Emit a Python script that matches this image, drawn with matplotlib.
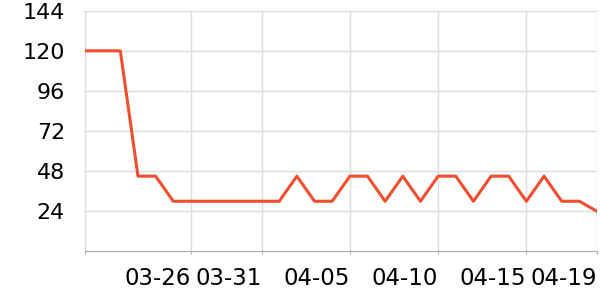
import matplotlib
matplotlib.use("Agg")
import matplotlib.pyplot as plt

dates = ["03-20", "03-21", "03-22", "03-23", "03-24", "03-25", "03-26", "03-27",
         "03-29", "03-30", "03-31", "04-01", "04-02", "04-03", "04-04", "04-05",
         "04-06", "04-07", "04-08", "04-09", "04-10", "04-11", "04-12", "04-13",
         "04-14", "04-15", "04-16", "04-17", "04-18", "04-19"]
values = [120, 120, 120, 45, 45, 30, 30, 30, 30, 30, 30, 30, 45, 30, 30, 45,
          45, 30, 45, 30, 45, 45, 30, 45, 45, 30, 45, 30, 30, 24]
shown_labels = ["03-26", "03-31", "04-05", "04-10", "04-15", "04-19"]
y_ticks = [24, 48, 72, 96, 120, 144]

fig = plt.figure(figsize=(6, 3), dpi=100)
ax = fig.add_axes([0.1417, 0.162, 0.995 - 0.1417, 0.9643 - 0.162])

x = list(range(len(dates)))
ax.plot(x, values, color="#f04e2e", linewidth=2.2, zorder=3)

ax.set_xlim(0, len(dates) - 1)
ax.set_ylim(0, 144)

tick_pos = [0] + [dates.index(d) for d in shown_labels]
ax.set_xticks(tick_pos)
ax.set_xticklabels([""] + shown_labels, ha="right")
ax.set_yticks(y_ticks)

ax.grid(True, color="#dddddd", linewidth=1)
ax.set_axisbelow(True)

for side in ["top", "right"]:
    ax.spines[side].set_visible(False)
ax.spines["left"].set_color("#dddddd")
ax.spines["bottom"].set_color("#aaaaaa")

ax.tick_params(axis="x", length=2, color="#aaaaaa", pad=9, labelsize=16.5)
ax.tick_params(axis="y", length=1.5, color="#dddddd", pad=13, labelsize=16)

fig.savefig("out.png", dpi=100)
